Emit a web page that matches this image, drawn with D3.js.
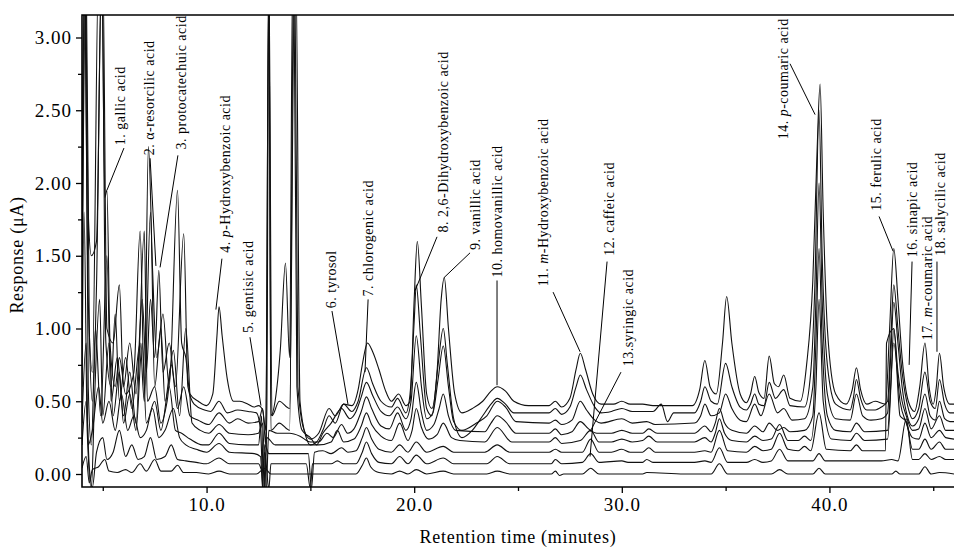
<!DOCTYPE html>
<html>
<head>
<meta charset="utf-8">
<script src="https://cdnjs.cloudflare.com/ajax/libs/d3/7.8.5/d3.min.js"></script>
<style>
body{margin:0;background:#fff;}
svg{display:block;font-family:"Liberation Serif","Times New Roman",serif;}
</style>
</head>
<body>
<svg></svg>
<script>
var WIDTH = 954;
var HEIGHT = 548;

// chromatogram runs, bottom trace first: [minutes, uA]
var run1 = [[4.0,0.04],[4.2,0.12],[4.35,-0.06],[4.5,0.03],[4.8,0.05],[5.1,0.1],[5.3,0.02],[5.7,0.01],[6.1,0.03],[6.4,0.01],[6.8,0.07],[7.1,0.02],[7.5,0.10],[7.8,0.02],[8.3,0.02],[8.6,0.06],[8.9,0.01],[9.5,0.01],[10.1,0.0],[10.6,0.02],[11.1,0.0],[12.4,0.0],[12.8,0.04],[13.1,0.0],[15.0,0.0],[17.2,0.0],[17.5,0.06],[17.7,0.11],[17.9,0.05],[18.3,0.01],[18.9,0.0],[19.3,0.02],[19.7,0.0],[20.1,0.03],[20.6,0.0],[21.4,0.02],[21.9,0.0],[23.5,0.0],[24.0,0.02],[24.6,0.0],[26.6,0.0],[26.8,0.02],[27.0,-0.01],[27.2,0.0],[28.1,0.0],[28.5,0.04],[28.9,0.0],[31.0,0.0],[31.2,0.01],[33.0,0.0],[34.3,0.0],[34.7,0.07],[35.1,0.0],[37.2,0.0],[37.6,0.03],[38.0,0.0],[39.2,0.0],[39.5,0.04],[39.8,0.0],[43.0,0.0],[43.2,0.02],[43.4,0.0],[44.3,0.0],[44.6,0.05],[44.9,0.0],[45.3,0.01],[46,0.0]];
var run2 = [[4.0,0.2],[4.2,0.5],[4.35,0.05],[4.5,-0.09],[4.7,0.15],[5.0,0.25],[5.2,0.1],[5.5,0.15],[5.8,0.3],[6.1,0.12],[6.4,0.2],[6.7,0.1],[7.0,0.12],[7.3,0.25],[7.6,0.1],[8.0,0.12],[8.3,0.2],[8.6,0.1],[9.0,0.09],[9.5,0.08],[10.0,0.07],[10.6,0.11],[11.1,0.07],[12.5,0.07],[12.7,0.02],[12.8,0.15],[13.0,-0.1],[13.1,0.07],[14.8,0.07],[15.0,-0.1],[15.1,0.07],[16.0,0.07],[16.3,0.09],[16.6,0.07],[17.2,0.07],[17.5,0.15],[17.7,0.22],[17.95,0.14],[18.3,0.08],[18.9,0.07],[19.3,0.12],[19.7,0.07],[20.1,0.13],[20.6,0.07],[21.4,0.11],[21.9,0.07],[23.5,0.07],[24.0,0.12],[24.6,0.07],[26.6,0.07],[26.8,0.1],[27.1,0.07],[28.1,0.08],[28.5,0.14],[28.9,0.08],[30.0,0.09],[30.3,0.08],[31.0,0.08],[31.2,0.1],[31.5,0.08],[33.5,0.08],[34.0,0.09],[34.3,0.08],[34.7,0.18],[35.1,0.08],[36.0,0.08],[36.4,0.1],[36.8,0.08],[37.2,0.09],[37.6,0.17],[38.0,0.09],[39.2,0.09],[39.5,0.14],[39.8,0.09],[42.5,0.09],[43.0,0.1],[43.3,0.09],[43.7,0.38],[44.0,0.1],[44.3,0.1],[44.6,0.14],[44.9,0.1],[45.3,0.12],[45.6,0.1],[46,0.1]];
var run3 = [[4.0,0.35],[4.2,0.9],[4.3,0.2],[4.5,0.3],[4.8,0.6],[5.0,0.35],[5.3,0.5],[5.6,0.3],[5.9,0.55],[6.2,0.3],[6.5,0.4],[6.8,0.25],[7.1,0.3],[7.4,0.45],[7.7,0.25],[8.0,0.3],[8.4,0.45],[8.7,0.25],[9.0,0.2],[9.5,0.17],[10.0,0.15],[10.6,0.21],[11.1,0.15],[12.3,0.14],[12.6,0.12],[12.7,-0.1],[12.8,0.2],[13.0,0.14],[14.0,0.14],[14.9,0.14],[15.05,-0.1],[15.2,0.15],[15.6,0.16],[16.0,0.14],[16.5,0.18],[16.8,0.15],[17.2,0.16],[17.5,0.25],[17.7,0.32],[17.95,0.24],[18.3,0.17],[18.9,0.15],[19.3,0.2],[19.7,0.15],[20.1,0.22],[20.6,0.15],[21.4,0.19],[21.9,0.15],[23.4,0.15],[24.0,0.2],[24.6,0.15],[26.5,0.15],[26.8,0.17],[27.1,0.15],[28.1,0.15],[28.5,0.24],[28.9,0.15],[29.5,0.15],[30.0,0.17],[30.4,0.15],[31.0,0.15],[31.3,0.18],[31.6,0.15],[33.5,0.15],[34.0,0.16],[34.3,0.15],[34.7,0.3],[35.1,0.16],[36.0,0.15],[36.4,0.19],[36.8,0.16],[37.2,0.17],[37.6,0.28],[38.0,0.17],[38.5,0.16],[38.8,0.19],[39.1,0.16],[39.5,0.42],[39.85,0.17],[41.0,0.16],[41.3,0.2],[41.6,0.16],[42.7,0.16],[42.75,0.9],[43.1,1.0],[43.4,0.4],[43.7,0.36],[44.0,0.17],[44.3,0.17],[44.6,0.24],[44.9,0.17],[45.3,0.22],[45.6,0.17],[46,0.17]];
var run4 = [[4.0,0.6],[4.1,1.8],[4.25,0.3],[4.45,-0.1],[4.6,0.5],[4.85,1.2],[5.0,0.4],[5.3,0.9],[5.5,0.4],[5.8,0.7],[6.0,0.35],[6.3,0.55],[6.6,0.3],[6.9,0.9],[7.1,0.35],[7.5,0.5],[7.8,0.3],[8.2,0.6],[8.5,0.3],[8.8,0.28],[9.2,0.24],[9.8,0.2],[10.1,0.2],[10.6,0.28],[11.1,0.21],[12.0,0.2],[12.5,0.2],[12.65,0.4],[12.75,-0.2],[12.9,0.25],[13.3,0.2],[14.5,0.2],[15.0,0.2],[15.4,0.2],[16.0,0.22],[16.3,0.3],[16.6,0.22],[17.1,0.24],[17.45,0.33],[17.7,0.42],[17.95,0.34],[18.4,0.26],[18.9,0.23],[19.3,0.35],[19.7,0.23],[19.9,0.3],[20.1,0.45],[20.35,0.32],[20.7,0.24],[21.1,0.27],[21.4,0.35],[21.8,0.25],[22.2,0.23],[23.4,0.22],[24.0,0.32],[24.7,0.22],[26.5,0.22],[26.8,0.25],[27.1,0.21],[28.0,0.23],[28.5,0.3],[28.9,0.22],[29.5,0.22],[30.0,0.24],[30.5,0.22],[31.0,0.23],[31.3,0.26],[31.7,0.22],[33.5,0.22],[34.0,0.25],[34.3,0.22],[34.5,0.28],[34.7,0.38],[34.95,0.28],[35.3,0.23],[36.0,0.22],[36.4,0.26],[36.8,0.23],[37.2,0.24],[37.6,0.34],[38.0,0.23],[38.5,0.23],[38.8,0.26],[39.1,0.23],[39.35,0.6],[39.5,1.2],[39.7,0.5],[40.1,0.24],[41.0,0.23],[41.3,0.28],[41.7,0.23],[42.8,0.24],[43.1,0.9],[43.4,0.5],[43.7,0.35],[44.0,0.25],[44.3,0.24],[44.6,0.35],[44.9,0.25],[45.3,0.3],[45.6,0.25],[46,0.24]];
var run5 = [[4.0,0.9],[4.15,3.5],[4.3,0.6],[4.45,0.2],[4.65,1.0],[4.9,0.4],[5.2,1.5],[5.4,0.5],[5.7,0.8],[6.0,0.4],[6.3,0.7],[6.6,0.35],[7.0,1.67],[7.15,0.5],[7.5,0.6],[7.8,0.35],[8.1,0.5],[8.4,0.85],[8.7,0.4],[9.0,1.0],[9.3,0.35],[9.7,0.3],[10.1,0.28],[10.6,0.34],[11.1,0.28],[12.0,0.27],[12.5,0.28],[12.7,0.35],[12.85,-0.2],[13.0,0.3],[13.4,0.28],[14.0,0.28],[14.5,0.26],[15.0,0.22],[15.4,0.22],[15.8,0.28],[16.1,0.25],[16.5,0.34],[16.8,0.28],[17.1,0.31],[17.45,0.43],[17.7,0.53],[17.95,0.45],[18.4,0.33],[18.8,0.31],[19.2,0.42],[19.6,0.3],[19.85,0.38],[20.1,0.63],[20.35,0.42],[20.6,0.3],[20.95,0.34],[21.2,0.45],[21.4,0.55],[21.65,0.4],[22.0,0.3],[23.4,0.29],[23.7,0.35],[24.0,0.4],[24.4,0.36],[24.9,0.28],[26.5,0.28],[26.8,0.31],[27.1,0.27],[27.6,0.29],[28.0,0.36],[28.4,0.31],[28.8,0.28],[29.5,0.28],[30.0,0.3],[30.5,0.28],[31.0,0.28],[31.3,0.31],[31.7,0.28],[33.5,0.28],[34.0,0.33],[34.3,0.29],[34.5,0.35],[34.7,0.45],[34.95,0.35],[35.3,0.3],[36.0,0.28],[36.4,0.33],[36.8,0.29],[37.1,0.35],[37.5,0.3],[37.8,0.32],[38.1,0.29],[38.8,0.3],[39.2,0.4],[39.35,0.9],[39.5,1.55],[39.65,0.9],[39.9,0.4],[40.3,0.3],[41.0,0.29],[41.3,0.35],[41.7,0.29],[42.8,0.3],[42.95,0.6],[43.1,1.0],[43.3,0.7],[43.5,0.5],[43.7,0.4],[44.0,0.3],[44.3,0.31],[44.6,0.45],[44.9,0.31],[45.3,0.4],[45.6,0.3],[46,0.3]];
var run6 = [[4.0,1.2],[4.2,3.5],[4.35,1.0],[4.5,0.5],[4.7,1.3],[4.95,3.5],[5.15,0.9],[5.4,0.6],[5.6,1.1],[5.8,0.5],[6.1,0.8],[6.4,0.45],[6.8,0.9],[7.0,0.5],[7.3,1.8],[7.5,0.6],[7.8,1.0],[8.0,0.5],[8.3,0.75],[8.6,0.45],[8.9,0.6],[9.2,0.4],[9.6,0.37],[10.1,0.34],[10.6,0.42],[11.1,0.35],[11.5,0.38],[12.0,0.35],[12.5,0.36],[12.7,0.45],[12.85,0.2],[13.0,3.5],[13.1,0.3],[13.5,0.35],[14.0,0.3],[14.2,3.5],[14.35,0.6],[14.6,0.3],[15.0,0.25],[15.3,0.2],[15.6,0.28],[16.0,0.35],[16.5,0.45],[16.9,0.38],[17.2,0.43],[17.45,0.53],[17.7,0.63],[18.0,0.54],[18.4,0.43],[18.8,0.4],[19.2,0.46],[19.6,0.38],[19.85,0.5],[20.1,0.95],[20.35,0.6],[20.6,0.38],[20.9,0.42],[21.15,0.65],[21.4,0.88],[21.65,0.6],[21.9,0.36],[22.3,0.3],[23.0,0.35],[23.5,0.4],[24.0,0.5],[24.4,0.46],[24.9,0.36],[26.5,0.35],[26.8,0.37],[27.1,0.34],[27.6,0.37],[28.0,0.5],[28.3,0.44],[28.7,0.37],[29.0,0.35],[30.0,0.38],[30.5,0.35],[31.2,0.36],[31.6,0.34],[33.5,0.35],[33.8,0.4],[34.0,0.48],[34.3,0.4],[34.7,0.42],[35.0,0.55],[35.3,0.45],[35.7,0.37],[36.0,0.36],[36.4,0.48],[36.7,0.4],[37.1,0.55],[37.5,0.42],[37.8,0.45],[38.2,0.37],[38.8,0.38],[39.2,0.6],[39.35,1.2],[39.5,2.0],[39.65,1.2],[39.9,0.55],[40.3,0.38],[41.0,0.37],[41.3,0.55],[41.6,0.4],[42.0,0.37],[42.5,0.38],[42.8,0.42],[42.95,0.8],[43.1,1.18],[43.3,0.9],[43.5,0.6],[43.75,0.4],[44.0,0.33],[44.3,0.38],[44.6,0.55],[44.85,0.4],[45.1,0.37],[45.3,0.5],[45.55,0.38],[45.8,0.36],[46,0.36]];
var run7 = [[4.0,1.5],[4.1,3.5],[4.3,1.2],[4.5,0.7],[4.8,3.5],[5.0,3.5],[5.2,1.0],[5.5,0.9],[5.8,1.3],[6.0,0.6],[6.3,0.9],[6.6,0.55],[6.9,1.2],[7.1,0.7],[7.3,1.2],[7.5,0.8],[7.7,1.4],[7.9,0.7],[8.2,0.9],[8.5,0.6],[8.9,1.65],[9.1,0.6],[9.4,0.48],[9.9,0.44],[10.2,0.43],[10.6,0.5],[11.0,0.42],[11.5,0.44],[12.0,0.43],[12.4,0.42],[12.6,0.3],[12.75,-0.2],[12.9,0.4],[13.0,3.5],[13.1,0.4],[13.3,0.5],[13.55,0.85],[13.8,1.45],[14.0,0.8],[14.15,3.5],[14.3,3.5],[14.5,0.5],[14.8,0.25],[15.0,0.2],[15.3,0.22],[15.6,0.3],[15.9,0.4],[16.2,0.35],[16.6,0.48],[17.0,0.43],[17.3,0.5],[17.7,0.73],[18.0,0.62],[18.4,0.5],[18.9,0.46],[19.2,0.52],[19.6,0.42],[19.8,0.55],[20.0,1.05],[20.1,1.30],[20.3,0.95],[20.6,0.45],[20.85,0.4],[21.15,0.75],[21.4,1.0],[21.6,0.75],[21.9,0.38],[22.3,0.25],[22.8,0.3],[23.3,0.4],[23.7,0.48],[24.0,0.52],[24.4,0.48],[24.8,0.42],[26.5,0.42],[26.8,0.45],[27.1,0.41],[27.5,0.46],[27.8,0.6],[28.0,0.68],[28.3,0.58],[28.7,0.46],[29.0,0.42],[29.5,0.43],[30.0,0.45],[30.5,0.43],[31.5,0.43],[31.9,0.48],[32.2,0.36],[32.5,0.42],[33.5,0.42],[33.8,0.5],[34.0,0.6],[34.3,0.5],[34.6,0.48],[35.0,0.76],[35.3,0.6],[35.7,0.46],[36.0,0.44],[36.2,0.48],[36.4,0.55],[36.6,0.48],[36.85,0.47],[37.1,0.63],[37.4,0.52],[37.8,0.58],[38.1,0.47],[38.8,0.46],[39.1,0.7],[39.3,1.3],[39.5,2.5],[39.65,1.5],[39.9,0.75],[40.3,0.48],[41.0,0.44],[41.15,0.52],[41.3,0.65],[41.5,0.52],[41.8,0.44],[42.2,0.44],[42.5,0.46],[42.8,0.5],[42.95,0.9],[43.1,1.3],[43.3,1.0],[43.5,0.7],[43.8,0.45],[44.0,0.38],[44.3,0.45],[44.6,0.7],[44.85,0.5],[45.1,0.45],[45.3,0.65],[45.55,0.48],[45.8,0.42],[46,0.42]];
var run8 = [[4.0,2.0],[4.15,3.5],[4.3,1.8],[4.45,1.5],[4.7,1.6],[4.95,3.5],[5.1,1.9],[5.2,1.95],[5.35,0.9],[5.6,0.6],[5.8,0.8],[6.1,0.55],[6.5,0.7],[6.8,1.67],[7.0,0.6],[7.2,2.25],[7.4,1.4],[7.6,0.8],[7.9,1.1],[8.2,0.6],[8.6,1.95],[8.8,0.9],[9.0,0.8],[9.2,0.55],[9.6,0.5],[10.0,0.47],[10.3,0.55],[10.5,0.95],[10.6,1.15],[10.75,0.95],[11.0,0.65],[11.3,0.5],[11.6,0.5],[12.0,0.48],[12.3,0.46],[12.5,0.47],[12.7,0.44],[12.85,0.3],[13.0,3.5],[13.15,0.4],[13.5,0.5],[14.0,0.45],[14.25,3.5],[14.4,0.6],[14.7,0.3],[15.0,0.24],[15.4,0.28],[15.9,0.45],[16.2,0.4],[16.6,0.48],[17.0,0.47],[17.3,0.58],[17.5,0.75],[17.75,0.90],[18.0,0.84],[18.3,0.72],[18.6,0.58],[18.9,0.5],[19.25,0.55],[19.6,0.47],[19.8,0.5],[20.0,1.2],[20.15,1.6],[20.35,1.15],[20.6,0.55],[20.85,0.45],[21.1,0.7],[21.3,1.2],[21.45,1.35],[21.65,1.0],[21.95,0.55],[22.3,0.42],[22.8,0.45],[23.3,0.5],[23.7,0.57],[24.0,0.60],[24.4,0.57],[24.8,0.5],[25.5,0.47],[26.5,0.47],[26.8,0.5],[27.1,0.46],[27.5,0.52],[27.8,0.72],[28.0,0.83],[28.25,0.72],[28.6,0.55],[29.0,0.48],[29.6,0.48],[30.0,0.5],[30.4,0.48],[31.0,0.48],[31.5,0.47],[33.4,0.47],[33.75,0.58],[34.0,0.78],[34.25,0.6],[34.55,0.55],[34.85,0.9],[35.05,1.22],[35.3,0.9],[35.7,0.55],[36.0,0.49],[36.2,0.55],[36.4,0.67],[36.6,0.56],[36.85,0.52],[37.1,0.81],[37.35,0.62],[37.55,0.6],[37.8,0.68],[38.1,0.52],[38.6,0.5],[38.9,0.75],[39.2,1.33],[39.4,2.2],[39.55,2.68],[39.7,1.8],[39.9,1.0],[40.3,0.55],[40.8,0.48],[41.1,0.58],[41.3,0.73],[41.5,0.58],[41.8,0.48],[42.2,0.5],[42.7,0.48],[42.9,1.0],[43.1,1.55],[43.3,1.2],[43.5,0.8],[43.8,0.5],[44.1,0.43],[44.35,0.6],[44.6,0.9],[44.8,0.6],[45.0,0.48],[45.15,0.6],[45.3,0.83],[45.5,0.6],[45.8,0.48],[46,0.48]];
var runs = [run1, run2, run3, run4, run5, run6, run7, run8];

var yTicks = [0, 0.5, 1, 1.5, 2, 2.5, 3];
var yMinor = [0.25, 0.75, 1.25, 1.75, 2.25, 2.75];
var xTicks = [10, 20, 30, 40];
var xMinor = [5, 15, 25, 35, 45];

// peak labels (*x* = italic)
var peakNames = ['1. gallic acid', '2. \u03b1-resorcilic acid', '3. protocatechuic acid', '4. *p*-Hydroxybenzoic acid',
  '5. gentisic acid', '6. tyrosol', '7. chlorogenic acid', '8. 2,6-Dihydroxybenzoic acid', '9. vanillic acid',
  '10. homovanillic  acid', '11. *m*-Hydroxybenzoic acid', '12. caffeic acid', '13.syringic acid',
  '14. *p*-coumaric acid', '15. ferulic acid', '16. sinapic acid', '17. *m*-coumaric acid', '18. salycilic acid'];
// where each label sits (centre time, foot value)
var labelT = [5.83, 7.23, 8.77, 10.89, 12.0, 15.99, 17.78, 21.39, 22.93, 23.99, 26.21, 29.38, 30.30, 37.77, 42.25, 43.98, 44.70, 45.33];
var labelV = [2.26, 2.19, 2.23, 1.52, 0.97, 1.14, 1.22, 1.66, 1.54, 1.35, 1.29, 1.50, 0.74, 2.30, 1.81, 1.49, 0.92, 1.50];
// leader lines: [t1, v1, t2, v2]
var leaders = [[6.02,2.24,5.20,1.95],[7.28,2.17,7.56,1.43],[8.62,2.19,7.76,1.42],[10.74,1.48,10.45,1.13],
  [12.09,0.94,12.62,0.47],[16.04,1.12,16.81,0.48],[17.78,1.20,17.63,0.70],[21.10,1.63,20.04,1.26],
  [22.69,1.52,21.44,1.35],[23.99,1.33,23.99,0.61],[26.69,1.25,27.99,0.84],[29.29,1.46,28.47,0.12],
  [29.96,0.70,28.47,0.29],[38.10,2.82,39.31,2.47],[42.39,1.77,43.07,1.53],[43.98,1.46,43.84,0.75],
  null,[45.18,1.46,45.18,0.84]];

var svg = d3.select('svg')
  .attr('width', WIDTH)
  .attr('height', HEIGHT);

var xScale = d3.scaleLinear().domain([4, 46]).range([82, 954]);
var yScale = d3.scaleLinear().domain([0, 3]).range([474, 37.5]);
var plotTop = 15, plotBottom = 487;

svg.append('clipPath').attr('id', 'plot')
  .append('rect').attr('x', 82).attr('y', plotTop).attr('width', 954 - 82).attr('height', plotBottom - plotTop);

var line = d3.line()
  .x(function(d){ return xScale(d[0]); })
  .y(function(d){ return yScale(d[1]); })
  .curve(d3.curveMonotoneX);

svg.append('g').attr('clip-path', 'url(#plot)')
  .selectAll('path').data(runs).enter()
  .append('path')
  .attr('d', line)
  .attr('fill', 'none')
  .attr('stroke', '#111')
  .attr('stroke-width', 1.1);

// axes
var leftAxis = d3.axisLeft(yScale).tickValues(yTicks).tickFormat(d3.format('.2f')).tickSize(6).tickPadding(4);
var leftMinor = d3.axisLeft(yScale).tickValues(yMinor).tickFormat('').tickSize(4);
var bottomAxis = d3.axisBottom(xScale).tickValues(xTicks).tickFormat(d3.format('.1f')).tickSize(6).tickPadding(5);
var bottomMinor = d3.axisBottom(xScale).tickValues(xMinor).tickFormat('').tickSize(4);

var gl = svg.append('g').attr('transform', 'translate(82,0)');
gl.call(leftAxis);
gl.append('g').call(leftMinor);
var gb = svg.append('g').attr('transform', 'translate(0,' + plotBottom + ')');
gb.call(bottomAxis);
gb.append('g').call(bottomMinor);

svg.selectAll('.domain').remove();
svg.selectAll('.tick line').attr('stroke', '#000').attr('stroke-width', 1.3);
svg.selectAll('.tick text')
  .attr('font-family', '"Liberation Serif", serif')
  .attr('font-size', 19)
  .attr('letter-spacing', 1)
  .attr('fill', '#000');

// frame
svg.append('path')
  .attr('d', 'M954,' + plotTop + 'H82V' + plotBottom + 'H954')
  .attr('fill', 'none')
  .attr('stroke', '#000')
  .attr('stroke-width', 1.6);

// axis titles
svg.append('text')
  .attr('x', 518).attr('y', 543)
  .attr('text-anchor', 'middle')
  .attr('font-size', 18)
  .attr('letter-spacing', 0.7)
  .text('Retention time (minutes)');
svg.append('text')
  .attr('transform', 'translate(23,255) rotate(-90)')
  .attr('text-anchor', 'middle')
  .attr('font-size', 18)
  .attr('letter-spacing', 0.7)
  .text('Response (\u03bcA)');

// peak annotations
var ann = svg.append('g');
ann.selectAll('line').data(leaders.filter(function(d){ return d; })).enter()
  .append('line')
  .attr('x1', function(d){ return xScale(d[0]); })
  .attr('y1', function(d){ return yScale(d[1]); })
  .attr('x2', function(d){ return xScale(d[2]); })
  .attr('y2', function(d){ return yScale(d[3]); })
  .attr('stroke', '#000')
  .attr('stroke-width', 1);

peakNames.forEach(function(name, i){
  var t = ann.append('text')
    .attr('transform', 'translate(' + xScale(labelT[i]) + ',' + yScale(labelV[i]) + ') rotate(-90)')
    .attr('dy', '0.35em')
    .attr('font-size', 14)
    .attr('letter-spacing', 0.5);
  name.split('*').forEach(function(part, j){
    t.append('tspan').attr('font-style', j % 2 ? 'italic' : 'normal').text(part);
  });
});
</script>
</body>
</html>
